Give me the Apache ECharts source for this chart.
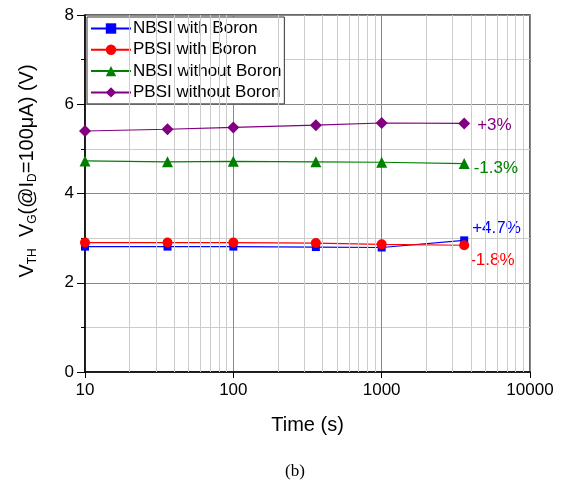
<!DOCTYPE html>
<html>
<head>
<meta charset="utf-8">
<script src="https://cdn.jsdelivr.net/npm/echarts@6/dist/echarts.min.js"></script>
<style>
html, body { margin: 0; padding: 0; background: #fff; }
#main { width: 564px; height: 485px; }
</style>
</head>
<body>
<div id="main"></div>
<script>
// 时间点 (s)
var times = [10, 36, 100, 360, 1000, 3600];
// 各组阈值电压 (V)
var nbsiBoron = [2.81, 2.81, 2.81, 2.80, 2.79, 2.95];
var pbsiBoron = [2.90, 2.90, 2.90, 2.89, 2.86, 2.84];
var nbsiNoBoron = [4.73, 4.71, 4.72, 4.71, 4.70, 4.67];
var pbsiNoBoron = [5.40, 5.44, 5.48, 5.53, 5.58, 5.57];
var names = ['NBSI with Boron', 'PBSI with Boron', 'NBSI without Boron', 'PBSI without Boron'];
var endTexts = ['+4.7%', '-1.8%', '-1.3%', '+3%'];
var yTicks = [0, 2, 4, 6, 8];
// 对数轴次网格线
var minorX = [20, 30, 40, 50, 60, 70, 80, 90, 200, 300, 400, 500, 600, 700, 800, 900,
              2000, 3000, 4000, 5000, 6000, 7000, 8000, 9000];

var colors = ['#0000ff', '#ff0000', '#008000', '#800080'];
var symbols = ['rect', 'circle', 'triangle', 'diamond'];
var sizes = [8, 10, 11, 12];
var labelOffsets = [[-1, -12], [-4, 15], [-1, 5], [2, 2]];
var allValues = [nbsiBoron, pbsiBoron, nbsiNoBoron, pbsiNoBoron];

var font = 'Liberation Sans, Arial, sans-serif';

var series = allValues.map(function (vals, i) {
    var data = times.map(function (t, k) {
        var item = { value: [t, vals[k]] };
        if (k === times.length - 1) {
            item.label = {
                show: true,
                position: 'right',
                formatter: endTexts[i],
                color: colors[i],
                fontSize: 17,
                fontFamily: font,
                offset: labelOffsets[i]
            };
        }
        return item;
    });
    return {
        name: names[i],
        type: 'line',
        data: data,
        symbol: symbols[i],
        symbolSize: sizes[i],
        showAllSymbol: true,
        lineStyle: { color: colors[i], width: 1.2 },
        itemStyle: { color: colors[i] },
        z: 3 + i,
        animation: false
    };
});

// 次网格线用 markLine 画在对数刻度上
series.push({
    type: 'line',
    data: [],
    silent: true,
    markLine: {
        symbol: 'none',
        silent: true,
        label: { show: false },
        lineStyle: { color: '#cccccc', width: 1, type: 'solid' },
        data: minorX.map(function (v) { return { xAxis: v }; }),
        animation: false
    },
    z: 1
});

var option = {
    backgroundColor: '#fff',
    animation: false,
    grid: {
        left: 85, right: 34, top: 15, bottom: 113,
        show: true,
        borderColor: '#333',
        borderWidth: 1.5
    },
    legend: {
        data: names,
        orient: 'vertical',
        left: 87,
        top: 17,
        backgroundColor: '#fff',
        borderColor: '#333',
        borderWidth: 1,
        borderRadius: 0,
        padding: [3, 3, 3, 3],
        itemWidth: 40,
        itemHeight: 13,
        itemGap: 4.3,
        textStyle: { fontSize: 17, fontFamily: font, color: '#000', padding: [0, 0, 0, -3] }
    },
    xAxis: {
        type: 'log',
        logBase: 10,
        min: 10,
        max: 10000,
        axisLine: { lineStyle: { color: '#000', width: 1.5 } },
        axisTick: { show: true, inside: false, length: 6, lineStyle: { color: '#000' } },
        axisLabel: {
            fontSize: 17, fontFamily: font, color: '#000', margin: 10,
            formatter: function (v) { return String(v); }
        },
        splitLine: { show: true, lineStyle: { color: '#888', width: 1 } },
        name: 'Time (s)',
        nameLocation: 'middle',
        nameGap: 43,
        nameTextStyle: { fontSize: 20, fontFamily: font, color: '#000' }
    },
    yAxis: {
        type: 'value',
        min: yTicks[0],
        max: yTicks[yTicks.length - 1],
        interval: 2,
        axisLine: { show: true, lineStyle: { color: '#000', width: 1.5 } },
        axisTick: { show: true, length: 8, lineStyle: { color: '#000' } },
        minorTick: { show: true, splitNumber: 2, length: 4, lineStyle: { color: '#000' } },
        minorSplitLine: { show: true, lineStyle: { color: '#cccccc', width: 1 } },
        axisLabel: { fontSize: 17, fontFamily: font, color: '#000', margin: 11 },
        splitLine: { show: true, lineStyle: { color: '#888', width: 1 } }
    },
    graphic: [
        {
            type: 'text',
            x: 27,
            y: 171,
            rotation: Math.PI / 2,
            style: {
                text: '{a|V}{s|TH}{a|  V}{s|G}{a|(@I}{s|D}{a|=100μA) (V)}',
                align: 'center',
                verticalAlign: 'middle',
                rich: {
                    a: { fontSize: 20, fontFamily: font, fill: '#000', lineHeight: 24, verticalAlign: 'middle' },
                    s: { fontSize: 12, fontFamily: font, fill: '#000', lineHeight: 24, verticalAlign: 'bottom', padding: [10, 0, 0, 0] }
                }
            }
        },
        {
            type: 'text',
            x: 295,
            y: 472,
            style: {
                text: '(b)',
                align: 'center',
                verticalAlign: 'middle',
                fontSize: 17,
                fontFamily: 'Liberation Serif, Times New Roman, serif',
                fill: '#000'
            }
        }
    ],
    series: series
};

var myChart = echarts.init(document.getElementById('main'));
myChart.setOption(option);
</script>
</body>
</html>
